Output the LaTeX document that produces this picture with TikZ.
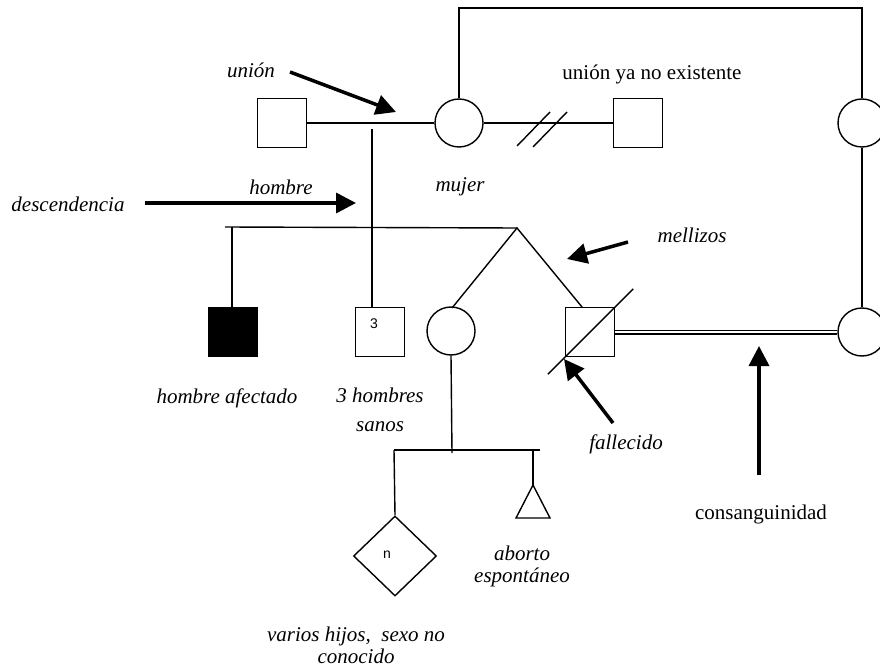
\documentclass[tikz,border=0pt]{standalone}
\usepackage{fontspec}
\setmainfont{Liberation Serif}
\setsansfont{Liberation Sans}
\usetikzlibrary{arrows.meta,shapes.geometric}
\begin{document}
\begin{tikzpicture}[x=1pt,y=-1pt,
  ln/.style={line width=1.4pt},
  male/.style={draw,ln,rectangle,minimum size=49pt,inner sep=0pt},
  female/.style={draw,ln,circle,minimum size=48pt,inner sep=0pt},
  lbl/.style={font=\fontsize{21}{24}\selectfont\itshape,inner sep=0pt,align=center},
  ulbl/.style={font=\fontsize{21}{24}\selectfont,inner sep=0pt},
  num/.style={font=\sffamily\fontsize{14}{16}\selectfont,inner sep=0pt},
  bigarrow/.style={line width=3.5pt,-{Triangle[length=20pt,width=20pt]}},
]
\useasboundingbox (0,0) rectangle (880,668);
\fill[white] (0,0) rectangle (880,668);

% individuals
\node[male] (m1) at (282,123) {};
\node[female] (f1) at (459,123) {};
\node[male] (m2) at (638,123) {};
\node[female] (f2) at (862,123) {};
\node[female] (f3) at (862,332) {};
\node[male,fill=black] (a1) at (233,332) {};
\node[male] (s3) at (380,332) {};
\node[num] (s3n) at (374,324) {3};
\node[female] (tw) at (451,331) {};
\node[male] (dc) at (590,332) {};
\node[draw,ln,diamond,aspect=1,minimum width=83pt,minimum height=80pt,inner sep=0pt] (dm) at (395,556) {};
\node[num] (dmn) at (387,555) {n};
\coordinate (tri) at (533,485);
\draw[ln,line join=miter] (tri) -- (550,518) -- (516,518) -- cycle;

% union and descent
\draw[ln] (m1.east) -- (f1.west);
\coordinate (ud) at (372,129);
\draw[ln] (ud) -- (ud |- s3.north);
\coordinate (sibL) at (225,227);
\coordinate (apex) at (517,228);
\draw[ln] (sibL) -- (apex);
\coordinate (a1top) at (232,227);
\draw[ln] (a1top) -- (a1top |- a1.north);
\coordinate (twL) at (452,308);
\coordinate (twR) at (582,307);
\draw[ln] (twL) -- (apex) -- (twR);
% deceased slash
\draw[ln] ([shift={(-17,17)}]dc.south west) -- ([shift={(18,-18)}]dc.north east);
% consanguinity
\draw[ln,double distance=2.2pt] (dc.east) -- (f3.west);
% top loop
\draw[ln] (f1.north) -- (459,8) -- (862,8) -- (f2.north);
\draw[ln] (f2.south) -- (f3.north);
% former union
\draw[ln] (f1.east) -- (m2.west);
\draw[ln] (517,146) -- (550,112);
\draw[ln] (533,147) -- (567,112);
% second generation
\coordinate (twb) at (452,453);
\draw[ln] (tw.south) -- (twb);
\coordinate (sib2L) at (394,450);
\coordinate (sib2R) at (540,450);
\draw[ln] (sib2L) -- (sib2R);
\draw[ln] (sib2L) -- (dm.north);
\draw[ln] (533,450) -- (tri);

% arrows
\coordinate (ua0) at (290,72); \coordinate (ua1) at (396,112);
\draw[bigarrow] (ua0) -- (ua1);
\coordinate (da0) at (145,203); \coordinate (da1) at (356,203);
\draw[bigarrow] (da0) -- (da1);
\coordinate (ma0) at (628,242); \coordinate (ma1) at (567,259);
\draw[bigarrow] (ma0) -- (ma1);
\coordinate (fa0) at (613,423); \coordinate (fa1) at (564,359);
\draw[bigarrow] (fa0) -- (fa1);
\coordinate (ca0) at (759,475); \coordinate (ca1) at (759,346);
\draw[bigarrow] (ca0) -- (ca1);

% labels
\node[lbl] (t1) at (251,70) {unión};
\node[ulbl] (t2) at (652,74) {unión ya no existente};
\node[lbl] (t3) at (281,187) {hombre};
\node[lbl] (t4) at (68,204) {descendencia};
\node[lbl] (t5) at (460,187) {mujer};
\node[lbl] (t6) at (692,235) {mellizos};
\node[lbl] (t7) at (227,398) {hombre afectado};
\node[lbl,font=\fontsize{21}{29}\selectfont\itshape] (t8) at (380,410) {3 hombres\\sanos};
\node[lbl] (t9) at (626,444) {fallecido};
\node[ulbl] (t10) at (761,514) {consanguinidad};
\node[lbl,font=\fontsize{21}{22}\selectfont\itshape] (t11) at (522,566) {aborto\\espontáneo};
\node[lbl,font=\fontsize{21}{22}\selectfont\itshape] (t12) at (356,645) {varios hijos,\ \ sexo no\\conocido};
\end{tikzpicture}
\end{document}
